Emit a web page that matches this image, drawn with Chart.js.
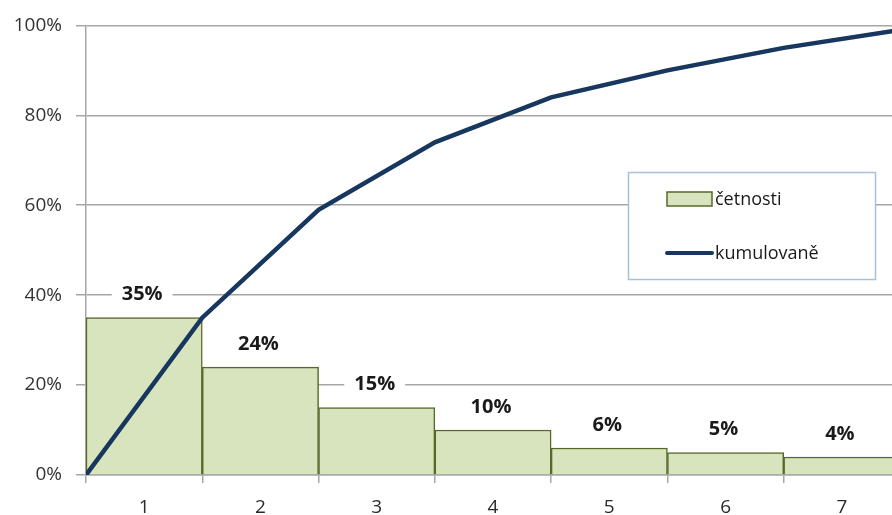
<!DOCTYPE html>
<html>
<head>
<meta charset="utf-8">
<script src="https://cdn.jsdelivr.net/npm/chart.js@4.4.1/dist/chart.umd.min.js"></script>
<style>
html,body{margin:0;padding:0;background:#fff;overflow:hidden;width:892px;height:515px;}
#wrap{width:910px;height:515px;}
</style>
</head>
<body>
<div id="wrap"><canvas id="c" width="910" height="515"></canvas></div>
<script>
const categories = ['1','2','3','4','5','6','7'];
const frequencies = [35, 24, 15, 10, 6, 5, 4];
const cumulativePositions = [0, 1, 2, 3, 4, 5, 6, 7];
const cumulative = [0, 35, 59, 74, 84, 90, 95, 99];
const yTicks = [0, 20, 40, 60, 80, 100];
const seriesNames = ['četnosti', 'kumulovaně'];

const barFill = '#d7e4bd';
const barBorder = '#56692b';
const lineColor = '#17375e';
const gridColor = '#a6a6a6';

const labelPlugin = {
  id: 'barLabels',
  afterDatasetsDraw(chart) {
    const ctx = chart.ctx;
    const meta = chart.getDatasetMeta(1);
    ctx.save();
    ctx.font = 'bold 20px "Open Sans", "Liberation Sans", sans-serif';
    ctx.textAlign = 'center';
    ctx.textBaseline = 'middle';
    meta.data.forEach((el, i) => {
      const txt = frequencies[i] + '%';
      const cx = el.x - 2;
      const cy = el.y - 23;
      const w = ctx.measureText(txt).width + 20;
      ctx.fillStyle = '#ffffff';
      ctx.fillRect(cx - w / 2, cy - 12, w, 24);
      ctx.fillStyle = '#1a1a1a';
      ctx.fillText(txt, cx, cy);
    });
    // legend
    const lx = 628, ly = 172, lw = 247, lh = 107;
    ctx.fillStyle = '#ffffff';
    ctx.fillRect(lx, ly, lw, lh);
    ctx.strokeStyle = '#a9c0dc';
    ctx.lineWidth = 1.5;
    ctx.strokeRect(lx + 0.5, ly + 0.5, lw, lh);
    ctx.fillStyle = barFill;
    ctx.fillRect(667, 192, 45, 14);
    ctx.strokeStyle = barBorder;
    ctx.lineWidth = 1.5;
    ctx.strokeRect(667, 192, 45, 14);
    ctx.strokeStyle = lineColor;
    ctx.lineWidth = 4;
    ctx.lineCap = 'round';
    ctx.beginPath();
    ctx.moveTo(667, 253);
    ctx.lineTo(712, 253);
    ctx.stroke();
    ctx.font = '18px "Open Sans", "Liberation Sans", sans-serif';
    ctx.textAlign = 'left';
    ctx.fillStyle = '#1a1a1a';
    ctx.fillText(seriesNames[0], 715, 200);
    ctx.fillText(seriesNames[1], 715, 254);
    ctx.restore();
  }
};

new Chart(document.getElementById('c'), {
  data: {
    labels: categories,
    datasets: [
      {
        type: 'line',
        label: seriesNames[1],
        data: cumulativePositions.map((p, i) => ({x: p, y: cumulative[i]})),
        xAxisID: 'x2',
        yAxisID: 'y',
        borderColor: lineColor,
        borderWidth: 4.5,
        pointRadius: 0,
        tension: 0,
        order: 0
      },
      {
        type: 'bar',
        label: seriesNames[0],
        data: frequencies,
        xAxisID: 'x',
        yAxisID: 'y',
        backgroundColor: barFill,
        borderColor: barBorder,
        borderWidth: 1.5,
        barPercentage: 1,
        categoryPercentage: 1,
        grouped: false,
        order: 1
      }
    ]
  },
  options: {
    responsive: false,
    animation: false,
    layout: {padding: {left: 0, top: 23, right: 10, bottom: 0}},
    plugins: {legend: {display: false}, tooltip: {enabled: false}},
    scales: {
      x: {
        type: 'category',
        offset: true,
        grid: {offset: true, drawOnChartArea: false, color: gridColor, tickLength: 8, lineWidth: 1.5},
        border: {color: gridColor, width: 1.5},
        ticks: {color: '#2a2a2a', font: {size: 19, family: '"Open Sans", "Liberation Sans", sans-serif'}, padding: 13},
        afterFit(s) { s.height = 40; }
      },
      x2: {
        type: 'linear',
        display: false,
        min: 0,
        max: 7
      },
      y: {
        min: 0,
        max: 100,
        afterBuildTicks(s) { s.ticks = yTicks.map(v => ({value: v})); },
        grid: {color: gridColor, tickLength: 10, lineWidth: 1.5},
        border: {color: gridColor, width: 1.5},
        ticks: {color: '#333333', padding: 14, font: {size: 19, family: '"Open Sans", "Liberation Sans", sans-serif'}, callback: v => v + '%'},
        afterFit(s) { s.width = 86; }
      }
    }
  },
  plugins: [labelPlugin]
});
</script>
</body>
</html>
